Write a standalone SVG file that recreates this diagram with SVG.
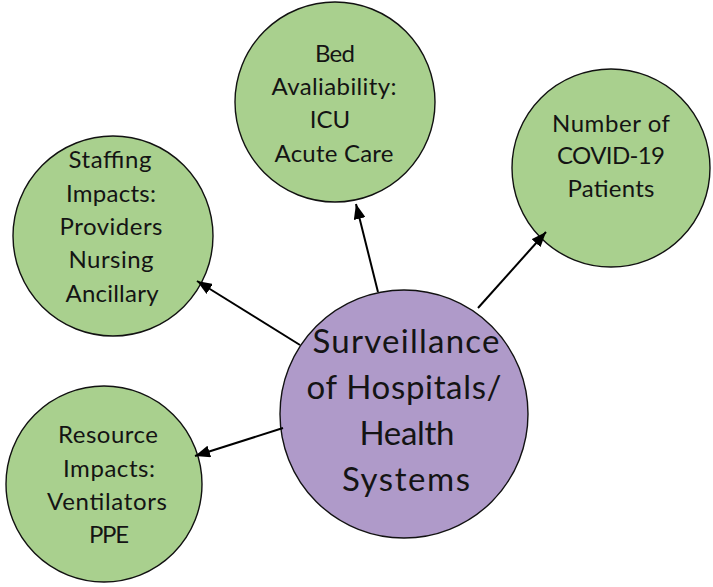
<svg xmlns="http://www.w3.org/2000/svg" width="713" height="587" viewBox="0 0 713 587">
<defs>
<style>
.g{fill:#A9D08E;stroke:#111;stroke-width:1.4}
.p{fill:#AF9AC9;stroke:#111;stroke-width:1.4}
.t{font-family:Lato,"Open Sans","Liberation Sans",sans-serif;font-size:24px;fill:#141414;text-anchor:middle}
.tp{font-family:Lato,"Open Sans","Liberation Sans",sans-serif;font-size:33px;fill:#141414;text-anchor:middle}
.c{stroke:#000;stroke-width:2;fill:none;marker-end:url(#ah)}
</style>
<marker id="ah" markerUnits="userSpaceOnUse" markerWidth="15" markerHeight="12" refX="15" refY="6" orient="auto">
<path d="M0,0 L15,6 L0,12 z" fill="#000"/>
</marker>
</defs>
<rect width="713" height="587" fill="#fff"/>
<g id="staffing">
<circle class="g" cx="113" cy="236" r="100"/>
<text class="t" x="110" y="168" textLength="83" lengthAdjust="spacing">Staffing</text>
<text class="t" x="111" y="202" textLength="90" lengthAdjust="spacing">Impacts:</text>
<text class="t" x="111" y="235" textLength="103" lengthAdjust="spacing">Providers</text>
<text class="t" x="111" y="268" textLength="85" lengthAdjust="spacing">Nursing</text>
<text class="t" x="112" y="302" textLength="93" lengthAdjust="spacing">Ancillary</text>
</g>
<g id="bed">
<circle class="g" cx="335" cy="102" r="100"/>
<text class="t" x="335" y="62" textLength="40" lengthAdjust="spacing">Bed</text>
<text class="t" x="334" y="95" textLength="125" lengthAdjust="spacing">Avaliability:</text>
<text class="t" x="330" y="128">ICU</text>
<text class="t" x="334" y="162" textLength="119" lengthAdjust="spacing">Acute Care</text>
</g>
<g id="patients">
<circle class="g" cx="611" cy="168" r="99"/>
<text class="t" x="611" y="132" textLength="118" lengthAdjust="spacing">Number of</text>
<text class="t" x="611" y="164" textLength="108" lengthAdjust="spacing">COVID-19</text>
<text class="t" x="611" y="197" textLength="87" lengthAdjust="spacing">Patients</text>
</g>
<g id="resource">
<circle class="g" cx="104" cy="484" r="98"/>
<text class="t" x="108" y="443" textLength="100" lengthAdjust="spacing">Resource</text>
<text class="t" x="109" y="477" textLength="92" lengthAdjust="spacing">Impacts:</text>
<text class="t" x="107" y="510" textLength="120" lengthAdjust="spacing">Ventilators</text>
<text class="t" x="109" y="543" textLength="40" lengthAdjust="spacing">PPE</text>
</g>
<g id="center">
<circle class="p" cx="404" cy="414" r="124"/>
<text class="tp" x="406" y="353" textLength="187" lengthAdjust="spacing">Surveillance</text>
<text class="tp" x="404" y="399" textLength="195" lengthAdjust="spacing">of Hospitals/</text>
<text class="tp" x="407" y="445" textLength="95" lengthAdjust="spacing">Health</text>
<text class="tp" x="406" y="491" textLength="128" lengthAdjust="spacing">Systems</text>
</g>
<g id="connectors">
<line class="c" x1="300" y1="345" x2="197" y2="281"/>
<line class="c" x1="378" y1="292" x2="356" y2="204"/>
<line class="c" x1="478" y1="308" x2="546" y2="232"/>
<line class="c" x1="283" y1="428" x2="195" y2="456"/>
</g>
</svg>
